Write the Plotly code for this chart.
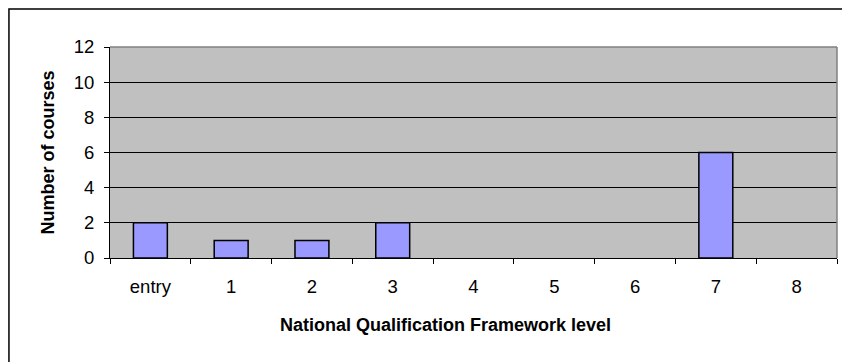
import plotly.graph_objects as go

# Courses per National Qualification Framework level
levels = ["entry", "1", "2", "3", "4", "5", "6", "7", "8"]
course_counts = [2, 1, 1, 2, 0, 0, 0, 6, 0]
y_ticks = [0, 2, 4, 6, 8, 10, 12]

FONT = "Liberation Sans, Arial, sans-serif"

# empty categories get no outline so nothing shows on the axis
outline_widths = [1.5 if v > 0 else 0 for v in course_counts]

fig = go.Figure(
    go.Bar(
        x=levels,
        y=course_counts,
        width=0.42,
        marker=dict(color="#9999FF", line=dict(color="#000000", width=outline_widths)),
    )
)

fig.update_layout(
    width=842,
    height=362,
    margin=dict(l=110, r=5, t=47, b=104),
    paper_bgcolor="#FFFFFF",
    plot_bgcolor="#C0C0C0",
    showlegend=False,
    font=dict(family=FONT, size=18.5, color="#000000"),
    xaxis=dict(
        type="category",
        tickson="boundaries",
        ticks="outside",
        ticklen=5,
        tickcolor="#000000",
        tickfont=dict(family=FONT, size=18.5),
        showline=True,
        linecolor="#000000",
        linewidth=1,
        showgrid=False,
        ticklabelstandoff=12,
    ),
    yaxis=dict(
        range=[0, 12],
        tickvals=y_ticks,
        ticks="outside",
        ticklen=5,
        tickcolor="#000000",
        tickfont=dict(family=FONT, size=18.5),
        ticklabelstandoff=6,
        showline=True,
        linecolor="#000000",
        linewidth=1,
        showgrid=True,
        gridcolor="#000000",
        gridwidth=1,
        zeroline=False,
        title=dict(
            text="Number of courses",
            font=dict(family=FONT, size=18, weight="bold"),
            standoff=14,
        ),
    ),
    # x-axis title is centred on the whole chart frame rather than the plot area
    annotations=[
        dict(
            text="National Qualification Framework level",
            xref="paper", yref="paper",
            x=0.462, y=-0.319,
            xanchor="center", yanchor="middle",
            showarrow=False,
            font=dict(family=FONT, size=18, weight="bold"),
        )
    ],
    shapes=[
        # grey frame on the top and right of the plot area
        dict(type="line", xref="paper", yref="paper", x0=0, x1=1, y0=1, y1=1,
             line=dict(color="#808080", width=1.5), layer="above"),
        dict(type="line", xref="paper", yref="paper", x0=1, x1=1, y0=0, y1=1,
             line=dict(color="#808080", width=1.5), layer="above"),
        # outer chart border
        dict(type="rect", xref="paper", yref="paper",
             x0=-0.139, x1=1.2, y0=-0.8, y1=1.18,
             line=dict(color="#000000", width=1.5), layer="below"),
    ],
)

fig.write_html("out.html")
